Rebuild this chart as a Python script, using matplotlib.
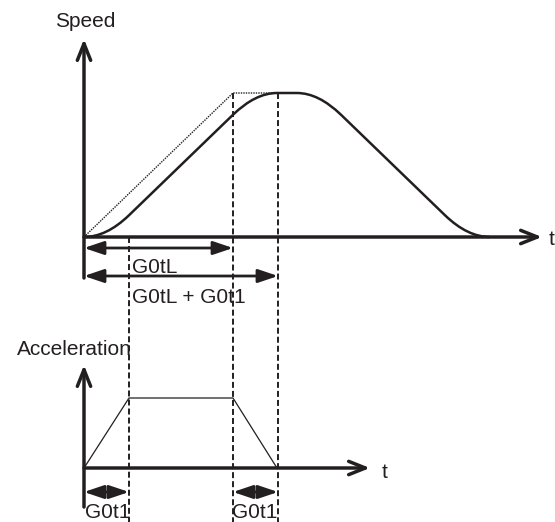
import matplotlib
matplotlib.use("Agg")
import matplotlib.pyplot as plt
from matplotlib.path import Path
from matplotlib.patches import PathPatch, FancyArrowPatch

plt.rcParams['font.family'] = ['Liberation Sans', 'DejaVu Sans']
plt.rcParams['lines.scale_dashes'] = False

INK = '#231f20'

# time constants of the profile (time units, 1 unit ~ 1 px)
G0t1 = 45
G0tL = 149
t_marks = [G0t1, G0tL, G0tL + G0t1]

# unfiltered linear ramp (dotted)
ramp_t = [0, 149, 193]
ramp_v = [0, 1, 1]

# filtered speed curve: knots and quadratic control points
curve_t = [0, 22.5, 45, 149, 171.5, 193, 213, 234.5, 257, 361, 383.5, 406]
curve_v = [0, 0, 0.151, 0.849, 1, 1, 1, 1, 0.849, 0.151, 0, 0]

# acceleration trapezoid
accel_t = [0, 45, 149, 193]
accel_a = [0, 1, 1, 0]

# layout (pixels)
W, H = 555, 522
X0 = 84                 # time origin
V0, VS = 237, 144       # speed zero line, full speed height
A0, AS = 468, 70        # accel zero line, full accel height


def vy(py):
    return (V0 - py) / VS


def ay(py):
    return (A0 - py) / AS


def axis_arrow(ax, start, end):
    ax.add_patch(FancyArrowPatch(start, end, arrowstyle='->,head_length=0.6,head_width=0.24',
                                 mutation_scale=20, lw=2.5, color=INK,
                                 shrinkA=0, shrinkB=0, zorder=4))


def dim_arrow(ax, t0, t1, y):
    ax.add_patch(FancyArrowPatch((t0, y), (t1, y), arrowstyle='<|-|>,head_length=0.8,head_width=0.27',
                                 mutation_scale=15, lw=2.0, color=INK,
                                 shrinkA=0, shrinkB=0, zorder=4))


fig = plt.figure(figsize=(5.55, 5.22), dpi=100)
ax_v = fig.add_axes([0, 0, 1, 1])
ax_a = fig.add_axes([0, 0, 1, 1])
ax_px = fig.add_axes([0, 0, 1, 1])
for ax in (ax_v, ax_a, ax_px):
    ax.axis('off')
    ax.patch.set_alpha(0)
    ax.set_xlim(-X0, W - X0)
ax_v.set_ylim((V0 - H) / VS, V0 / VS)
ax_a.set_ylim((A0 - H) / AS, A0 / AS)
ax_px.set_xlim(0, W)
ax_px.set_ylim(H, 0)

# --- speed graph ---
ax_v.plot(ramp_t, ramp_v, color=INK, lw=1.0, linestyle=(0, (1, 0.8)), zorder=2)
codes = [Path.MOVETO, Path.CURVE3, Path.CURVE3, Path.LINETO, Path.CURVE3, Path.CURVE3,
         Path.LINETO, Path.CURVE3, Path.CURVE3, Path.LINETO, Path.CURVE3, Path.CURVE3]
curve = Path(list(zip(curve_t, curve_v)), codes)
ax_v.add_patch(PathPatch(curve, facecolor='none', edgecolor=INK, lw=1.8, zorder=3))

# dashed guides
bottom = (V0 - H) / VS
for t in t_marks:
    top = 0 if t == G0t1 else 1
    ax_v.plot([t, t], [top, bottom], color=INK, lw=1.4, linestyle=(0, (4.3, 2.2)), zorder=1)

axis_arrow(ax_v, (0, vy(278)), (0, vy(39)))
axis_arrow(ax_v, (0, 0), (542 - X0, 0))
dim_arrow(ax_v, 0, G0tL, vy(248))
dim_arrow(ax_v, 0, G0tL + G0t1, vy(276))

# --- acceleration graph ---
ax_a.plot(accel_t, accel_a, color=INK, lw=0.9, zorder=3)
axis_arrow(ax_a, (0, ay(507)), (0, ay(365)))
axis_arrow(ax_a, (0, 0), (370 - X0, 0))
dim_arrow(ax_a, 0, G0t1, ay(492))
dim_arrow(ax_a, G0tL, G0tL + G0t1, ay(492))

# --- labels ---
fs = 15
ax_px.text(55, 27, 'Speed', fontsize=fs, color=INK)
ax_px.text(549, 245, 't', fontsize=fs, color=INK)
ax_px.text(132, 273, 'G0tL', fontsize=fs, color=INK)
ax_px.text(132, 303, 'G0tL + G0t1', fontsize=fs, color=INK)
ax_px.text(17, 355, 'Acceleration', fontsize=fs, color=INK)
ax_px.text(382, 478, 't', fontsize=fs, color=INK)
ax_px.text(85, 518, 'G0t1', fontsize=fs, color=INK)
ax_px.text(232, 518, 'G0t1', fontsize=fs, color=INK)

fig.savefig('out.png', dpi=100)
